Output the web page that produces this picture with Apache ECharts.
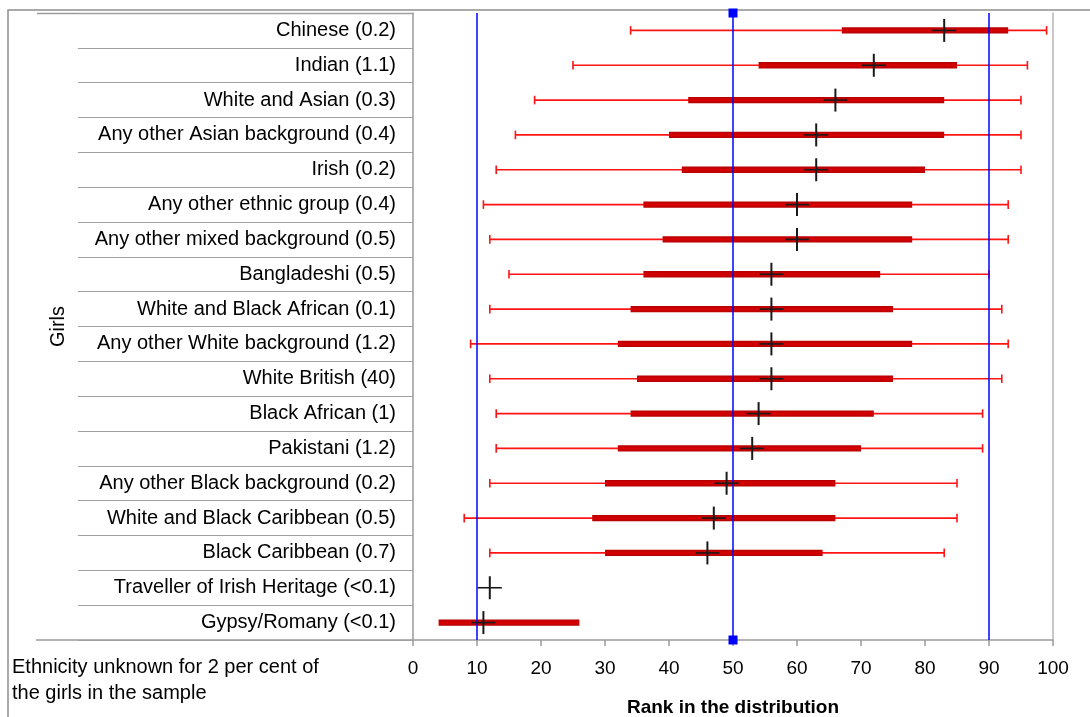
<!DOCTYPE html>
<html>
<head>
<meta charset="utf-8">
<script src="https://cdn.jsdelivr.net/npm/echarts@6/dist/echarts.min.js"></script>
<style>
  html, body { margin: 0; padding: 0; background: #fff; overflow: hidden; }
  #chart { width: 1090px; height: 717px; }
</style>
</head>
<body>
<div id="chart"></div>
<script>
// ---- data ----
const categories = [
  'Chinese (0.2)',
  'Indian (1.1)',
  'White and Asian (0.3)',
  'Any other Asian background (0.4)',
  'Irish (0.2)',
  'Any other ethnic group (0.4)',
  'Any other mixed background (0.5)',
  'Bangladeshi (0.5)',
  'White and Black African (0.1)',
  'Any other White background (1.2)',
  'White British (40)',
  'Black African (1)',
  'Pakistani (1.2)',
  'Any other Black background (0.2)',
  'White and Black Caribbean (0.5)',
  'Black Caribbean (0.7)',
  'Traveller of Irish Heritage (<0.1)',
  'Gypsy/Romany (<0.1)'
];
const whiskerLow  = [34, 25, 19, 16, 13, 11, 12, 15, 12,  9, 12, 13, 13, 12,  8, 12, null, null];
const boxLow      = [67, 54, 43, 40, 42, 36, 39, 36, 34, 32, 35, 34, 32, 30, 28, 30, null, 4];
const boxHigh     = [93, 85, 83, 83, 80, 78, 78, 73, 75, 78, 75, 72, 70, 66, 66, 64, null, 26];
const whiskerHigh = [99, 96, 95, 95, 95, 93, 93, 90, 92, 93, 92, 89, 89, 85, 85, 83, null, null];
const median      = [83, 72, 66, 63, 63, 60, 60, 56, 56, 56, 56, 54, 53, 49, 47, 46, 12, 11];
const referenceLines = [10, 50, 90];
const markedReference = [50];
const xTicks = [0, 10, 20, 30, 40, 50, 60, 70, 80, 90, 100];
const noteText = 'Ethnicity unknown for 2 per cent of\nthe girls in the sample';

// ---- build ----
const FONT = '"Liberation Sans", Arial, Helvetica, sans-serif';
const rows = categories.map((c, i) => [
  i,
  whiskerLow[i] == null ? '-' : whiskerLow[i],
  boxLow[i] == null ? '-' : boxLow[i],
  boxHigh[i] == null ? '-' : boxHigh[i],
  whiskerHigh[i] == null ? '-' : whiskerHigh[i],
  median[i]
]);

function ok(v) { return v != null && !isNaN(v); }

function renderBox(params, api) {
  const i = api.value(0);
  const wl = api.value(1), bl = api.value(2), bh = api.value(3), wh = api.value(4);
  const y = api.coord([0, i])[1];
  const children = [];
  const wStyle = { stroke: '#ff1414', lineWidth: 1.6 };
  if (ok(wl) && ok(wh)) {
    const x1 = api.coord([wl, i])[0], x2 = api.coord([wh, i])[0];
    children.push({ type: 'line', shape: { x1: x1, y1: y, x2: x2, y2: y }, style: wStyle });
    children.push({ type: 'line', shape: { x1: x1, y1: y - 4.3, x2: x1, y2: y + 4.3 }, style: wStyle });
    children.push({ type: 'line', shape: { x1: x2, y1: y - 4.3, x2: x2, y2: y + 4.3 }, style: wStyle });
  }
  if (ok(bl) && ok(bh)) {
    const x1 = api.coord([bl, i])[0], x2 = api.coord([bh, i])[0];
    children.push({
      type: 'rect',
      shape: { x: x1, y: y - 3.2, width: x2 - x1, height: 6.4 },
      style: {
        fill: new echarts.graphic.LinearGradient(0, 0, 0, 1, [
          { offset: 0, color: '#b40000' },
          { offset: 0.5, color: '#d80000' },
          { offset: 1, color: '#b40000' }
        ])
      }
    });
  }
  return { type: 'group', children: children };
}

function renderCross(params, api) {
  const i = api.value(0);
  const m = api.value(1);
  const p = api.coord([m, i]);
  return {
    type: 'group',
    children: [
      { type: 'line', shape: { x1: p[0], y1: p[1] - 11.5, x2: p[0], y2: p[1] + 11.5 }, style: { stroke: '#1a1a1a', lineWidth: 2 } },
      { type: 'line', shape: { x1: p[0] - 12, y1: p[1], x2: p[0] + 12, y2: p[1] }, style: { stroke: '#1a1a1a', lineWidth: 1.6 } }
    ]
  };
}

function renderRef(params, api) {
  const v = api.value(0);
  const x = api.coord([v, 0])[0];
  const cs = params.coordSys;
  const children = [
    { type: 'line', shape: { x1: x, y1: cs.y, x2: x, y2: cs.y + cs.height }, style: { stroke: '#0000ff', lineWidth: 1.5 } }
  ];
  if (markedReference.indexOf(v) >= 0) {
    children.push({ type: 'rect', shape: { x: x - 4.5, y: cs.y - 4.5, width: 9, height: 9 }, style: { fill: '#0000ff' } });
    children.push({ type: 'rect', shape: { x: x - 4.5, y: cs.y + cs.height - 4.5, width: 9, height: 9 }, style: { fill: '#0000ff' } });
  }
  return { type: 'group', children: children };
}

const chart = echarts.init(document.getElementById('chart'), null, { renderer: 'canvas', width: 1090, height: 717 });
const gray = '#9a9a9a';
chart.setOption({
  backgroundColor: '#fff',
  animation: false,
  textStyle: { fontFamily: FONT },
  grid: { left: 413, width: 640, top: 13, height: 627, containLabel: false, outerBoundsMode: 'none' },
  xAxis: {
    type: 'value',
    min: xTicks[0],
    max: xTicks[xTicks.length - 1],
    interval: xTicks[1] - xTicks[0],
    axisLine: { show: true, lineStyle: { color: gray, width: 1.5 } },
    axisTick: { show: true, length: 6, lineStyle: { color: gray, width: 1.5 } },
    splitLine: { show: false },
    axisLabel: { color: '#000', fontSize: 19, margin: 19, fontFamily: FONT },
    name: 'Rank in the distribution',
    nameLocation: 'middle',
    nameGap: 58,
    nameTextStyle: { color: '#000', fontSize: 19, fontWeight: 'bold', fontFamily: FONT }
  },
  yAxis: [
    {
      type: 'category',
      data: categories,
      inverse: true,
      axisLine: { show: true, lineStyle: { color: gray, width: 1.5 } },
      axisTick: { show: true, length: 335, lineStyle: { color: '#a0a0a0', width: 1 } },
      splitLine: { show: false },
      axisLabel: { color: '#000', fontSize: 20, margin: 17, fontFamily: FONT },
      name: 'Girls',
      nameLocation: 'middle',
      nameGap: 345,
      nameRotate: 90,
      nameTextStyle: { color: '#000', fontSize: 20, fontFamily: FONT }
    },
    {
      type: 'category',
      data: categories,
      inverse: true,
      position: 'right',
      axisLine: { show: true, lineStyle: { color: '#b5b5b5', width: 1.5 } },
      axisTick: { show: false },
      axisLabel: { show: false },
      splitLine: { show: false }
    }
  ],
  series: [
    {
      type: 'custom',
      name: 'range',
      renderItem: renderBox,
      data: rows,
      encode: { x: [1, 2, 3, 4], y: 0 },
      z: 2,
      silent: true
    },
    {
      type: 'custom',
      name: 'reference',
      renderItem: renderRef,
      data: referenceLines.map(v => [v]),
      encode: { x: 0 },
      z: 3,
      silent: true
    },
    {
      type: 'custom',
      name: 'median',
      renderItem: renderCross,
      data: median.map((m, i) => [i, m]),
      encode: { x: 1, y: 0 },
      z: 4,
      silent: true
    }
  ],
  graphic: [
    { type: 'rect', z: -10, shape: { x: 8, y: 10, width: 1200, height: 900 }, style: { fill: 'none', stroke: '#8f8f8f', lineWidth: 1.5 } },
    { type: 'line', shape: { x1: 37, y1: 13.5, x2: 413, y2: 13.5 }, style: { stroke: gray, lineWidth: 1.5 } },
    { type: 'line', shape: { x1: 36, y1: 640, x2: 413, y2: 640 }, style: { stroke: gray, lineWidth: 1.5 } },
    { type: 'text', left: 12, top: 654, style: { text: noteText, fontSize: 20, lineHeight: 26, fill: '#000', font: '20px ' + FONT } }
  ]
});
</script>
</body>
</html>
